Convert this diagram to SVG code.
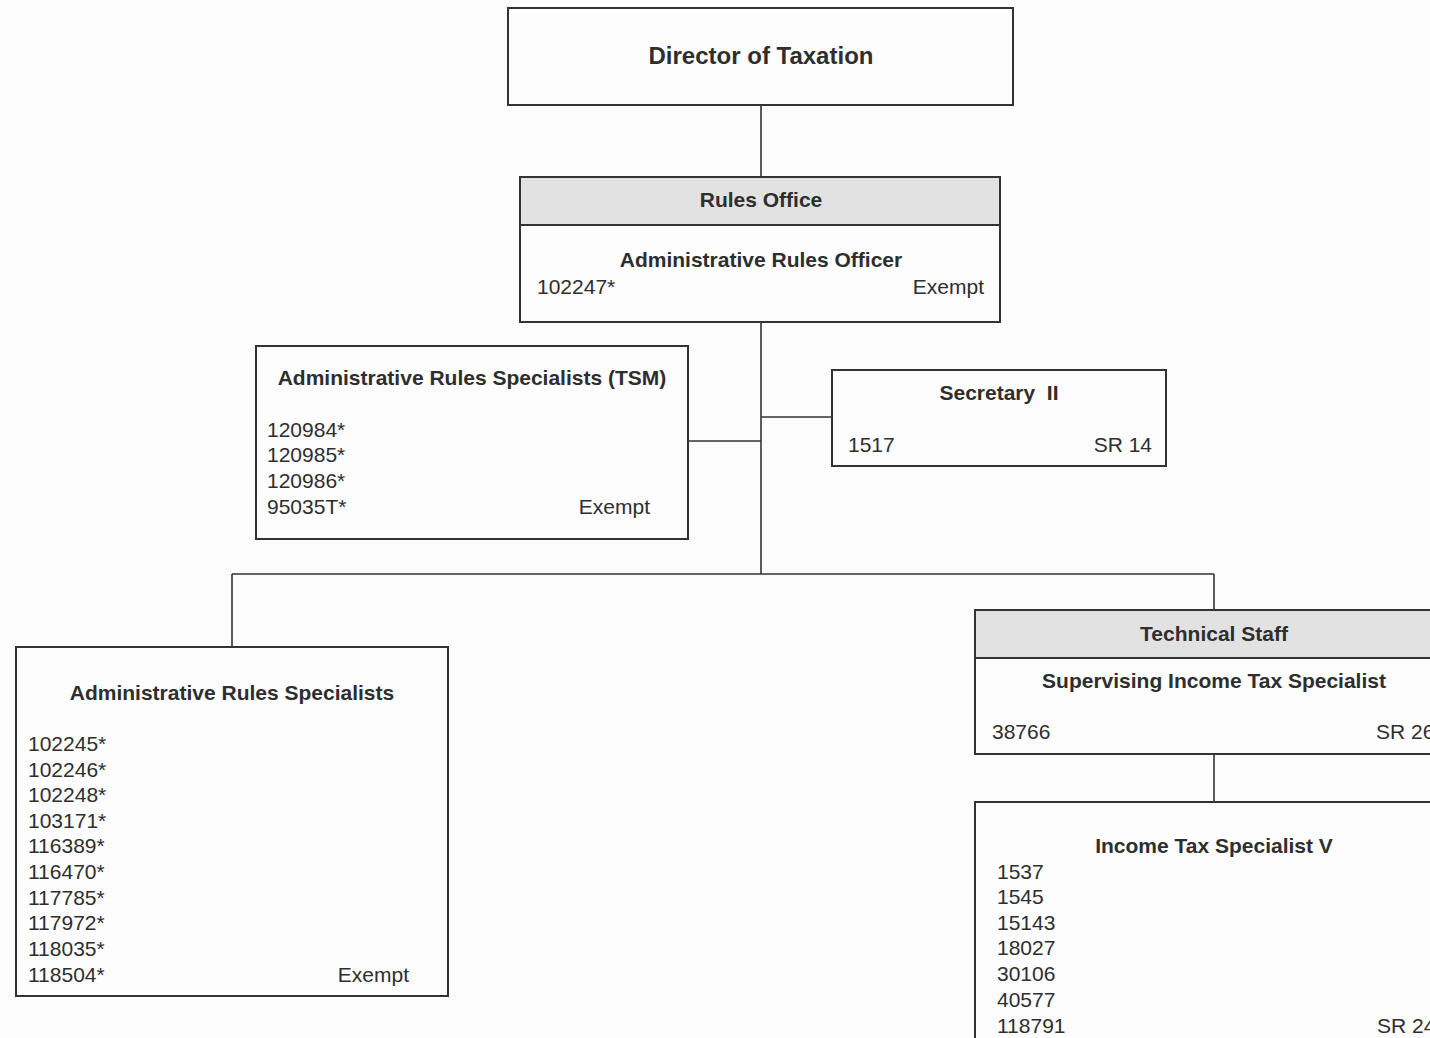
<svg xmlns="http://www.w3.org/2000/svg" width="1430" height="1038" viewBox="0 0 1430 1038">
<style>
.box{fill:#fdfdfd;stroke:#333;stroke-width:2}
.hdr{fill:#e2e2e2;stroke:#333;stroke-width:2}
.ln{stroke:#333;stroke-width:1.6;fill:none}
text{font-family:"Liberation Sans",Arial,sans-serif;fill:#2e2e2e}
.t{font-size:21px;font-weight:bold;text-anchor:middle}
.d{font-size:24px;font-weight:bold;text-anchor:middle}
.n{font-size:21px}
.r{font-size:21px;text-anchor:end}
</style>
<rect width="1430" height="1038" fill="#fcfcfc"/>
<g id="connectors">
<path class="ln" d="M761,105V177"/>
<path class="ln" d="M761,322V574"/>
<path class="ln" d="M688,441H761"/>
<path class="ln" d="M761,417H832"/>
<path class="ln" d="M232,574H1214"/>
<path class="ln" d="M232,574V647"/>
<path class="ln" d="M1214,574V610"/>
<path class="ln" d="M1214,754V802"/>
</g>
<g id="director">
<rect class="box" x="508" y="8" width="505" height="97"/>
<text class="d" x="761" y="64">Director of Taxation</text>
</g>
<g id="rules-office">
<rect class="box" x="520" y="177" width="480" height="145"/>
<rect class="hdr" x="520" y="177" width="480" height="48"/>
<text class="t" x="761" y="207">Rules Office</text>
<text class="t" x="761" y="267">Administrative Rules Officer</text>
<text class="n" x="537" y="294">102247*</text>
<text class="r" x="984" y="294">Exempt</text>
</g>
<g id="tsm">
<rect class="box" x="256" y="346" width="432" height="193"/>
<text class="t" x="472" y="385">Administrative Rules Specialists (TSM)</text>
<text class="n" x="267" y="437">120984*</text>
<text class="n" x="267" y="462">120985*</text>
<text class="n" x="267" y="488">120986*</text>
<text class="n" x="267" y="514">95035T*</text>
<text class="r" x="650" y="514">Exempt</text>
</g>
<g id="secretary">
<rect class="box" x="832" y="370" width="334" height="96"/>
<text class="t" x="999" y="400" xml:space="preserve">Secretary  II</text>
<text class="n" x="848" y="452">1517</text>
<text class="r" x="1152" y="452">SR 14</text>
</g>
<g id="ars">
<rect class="box" x="16" y="647" width="432" height="349"/>
<text class="t" x="232" y="700">Administrative Rules Specialists</text>
<text class="n" x="28" y="751">102245*</text>
<text class="n" x="28" y="777">102246*</text>
<text class="n" x="28" y="802">102248*</text>
<text class="n" x="28" y="828">103171*</text>
<text class="n" x="28" y="853">116389*</text>
<text class="n" x="28" y="879">116470*</text>
<text class="n" x="28" y="905">117785*</text>
<text class="n" x="28" y="930">117972*</text>
<text class="n" x="28" y="956">118035*</text>
<text class="n" x="28" y="982">118504*</text>
<text class="r" x="409" y="982">Exempt</text>
</g>
<g id="technical-staff">
<rect class="box" x="975" y="610" width="480" height="144"/>
<rect class="hdr" x="975" y="610" width="480" height="48"/>
<text class="t" x="1214" y="641">Technical Staff</text>
<text class="t" x="1214" y="688">Supervising Income Tax Specialist</text>
<text class="n" x="992" y="739">38766</text>
<text class="n" x="1376" y="739">SR 26</text>
</g>
<g id="its-v">
<rect class="box" x="975" y="802" width="480" height="260"/>
<text class="t" x="1214" y="853">Income Tax Specialist V</text>
<text class="n" x="997" y="879">1537</text>
<text class="n" x="997" y="904">1545</text>
<text class="n" x="997" y="930">15143</text>
<text class="n" x="997" y="955">18027</text>
<text class="n" x="997" y="981">30106</text>
<text class="n" x="997" y="1007">40577</text>
<text class="n" x="997" y="1033">118791</text>
<text class="n" x="1377" y="1033">SR 24</text>
</g>
</svg>
